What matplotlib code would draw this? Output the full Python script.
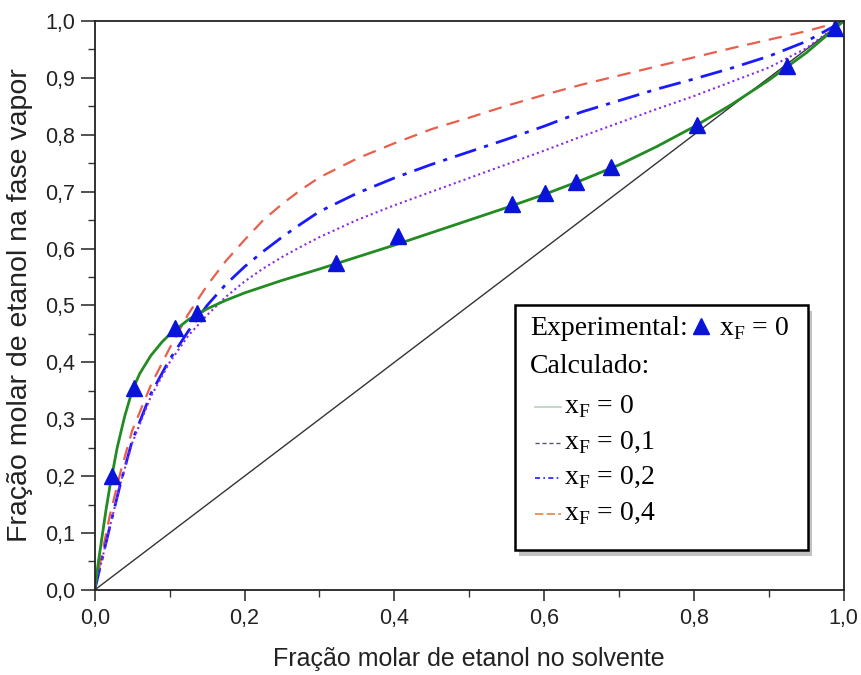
import matplotlib
matplotlib.use('Agg')
import matplotlib.pyplot as plt
from matplotlib.patches import Rectangle
from matplotlib.lines import Line2D

# dados experimentais (x_F = 0)
x_exp = [0.023, 0.052, 0.107, 0.136, 0.322, 0.405, 0.557, 0.601, 0.642, 0.689, 0.804, 0.924, 0.988]
y_exp = [0.200, 0.355, 0.460, 0.487, 0.574, 0.622, 0.678, 0.697, 0.717, 0.743, 0.817, 0.920, 0.987]

# curva calculada x_F = 0
x_f0 = [0, 0.005, 0.01, 0.015, 0.02, 0.03, 0.04, 0.05, 0.06, 0.075, 0.09, 0.1, 0.125, 0.15, 0.175, 0.2,
        0.25, 0.3, 0.35, 0.4, 0.45, 0.5, 0.55, 0.6, 0.65, 0.7, 0.75, 0.8, 0.85, 0.9, 0.95, 1.0]
y_f0 = [0, 0.05, 0.095, 0.14, 0.18, 0.25, 0.305, 0.35, 0.38, 0.412, 0.436, 0.449, 0.475, 0.494, 0.509, 0.522,
        0.544, 0.564, 0.585, 0.606, 0.628, 0.65, 0.672, 0.695, 0.72, 0.747, 0.779, 0.814, 0.853, 0.896, 0.944, 1.0]

# curvas calculadas x_F = 0,1 / 0,2 / 0,4
x_calc = [0, 0.01, 0.02, 0.035, 0.05, 0.075, 0.1, 0.125, 0.15, 0.175, 0.2, 0.225, 0.25, 0.275, 0.3, 0.35,
          0.4, 0.45, 0.5, 0.55, 0.6, 0.65, 0.7, 0.75, 0.8, 0.85, 0.9, 0.95, 1.0]
y_f01 = [0, 0.055, 0.11, 0.19, 0.258, 0.34, 0.4, 0.447, 0.483, 0.515, 0.542, 0.565, 0.585, 0.603, 0.62, 0.65,
         0.676, 0.7, 0.724, 0.748, 0.772, 0.797, 0.821, 0.845, 0.868, 0.893, 0.918, 0.952, 1.0]
y_f02 = [0, 0.055, 0.11, 0.19, 0.262, 0.345, 0.405, 0.455, 0.5, 0.537, 0.568, 0.595, 0.62, 0.643, 0.665, 0.697,
         0.724, 0.748, 0.77, 0.792, 0.815, 0.84, 0.86, 0.88, 0.898, 0.917, 0.938, 0.964, 1.0]
y_f04 = [0, 0.065, 0.13, 0.21, 0.28, 0.36, 0.425, 0.485, 0.535, 0.578, 0.615, 0.65, 0.678, 0.703, 0.725, 0.758,
         0.785, 0.81, 0.83, 0.851, 0.87, 0.888, 0.904, 0.92, 0.936, 0.952, 0.967, 0.982, 1.0]

xticks = [0.0, 0.2, 0.4, 0.6, 0.8, 1.0]
xticklabels = ['0,0', '0,2', '0,4', '0,6', '0,8', '1,0']
yticks = [0.0, 0.1, 0.2, 0.3, 0.4, 0.5, 0.6, 0.7, 0.8, 0.9, 1.0]
yticklabels = ['0,0', '0,1', '0,2', '0,3', '0,4', '0,5', '0,6', '0,7', '0,8', '0,9', '1,0']

plt.rcParams['font.family'] = 'Liberation Sans'

fig = plt.figure(figsize=(8.61, 6.75), dpi=100)
ax = fig.add_axes([0.110, 0.126, 0.870, 0.843])

ax.plot([0, 1], [0, 1], color='#333333', lw=1.0)
ax.plot(x_calc, y_f04, color='#e8604c', lw=1.6, ls=(0, (6, 4)))
ax.plot(x_calc, y_f02, color='#1a1aff', lw=2.0, ls=(0, (8, 3, 1.5, 3)))
ax.plot(x_calc, y_f01, color='#8a2be2', lw=1.5, ls=(0, (1, 1.5)))
ax.plot(x_f0, y_f0, color='#228b22', lw=2.0)
ax.plot(x_exp, y_exp, ls='none', marker='^', ms=11, color='#0a14d8', mec='#0a14d8')

ax.set_xlim(0, 1)
ax.set_ylim(0, 1)
ax.set_xticks(xticks)
ax.set_xticklabels(xticklabels, fontsize=15.5)
ax.set_yticks(yticks)
ax.set_yticklabels(yticklabels, fontsize=15.5)
ax.set_xticks([0.1, 0.3, 0.5, 0.7, 0.9], minor=True)
ax.set_yticks([0.05 + 0.1 * i for i in range(10)], minor=True)
ax.tick_params(axis='x', which='major', direction='out', length=8, width=1.2, pad=5, color='#333333', labelcolor='#222222')
ax.tick_params(axis='x', which='minor', direction='out', length=5, width=1.0, color='#333333')
ax.tick_params(axis='y', which='major', direction='out', length=10, width=1.2, pad=4, color='#333333', labelcolor='#222222')
ax.tick_params(axis='y', which='minor', direction='out', length=5, width=1.0, color='#333333')
for s in ax.spines.values():
    s.set_linewidth(1.3)
    s.set_color('#222222')

ax.set_xlabel('Fração molar de etanol no solvente', fontsize=18, labelpad=13, color='#222222')
ax.set_ylabel('Fração molar de etanol na fase vapor', fontsize=20.5, labelpad=9, color='#222222')

# legenda desenhada a mao
ax.add_patch(Rectangle((0.567, 0.060), 0.391, 0.431, transform=ax.transAxes,
                       facecolor='#999999', edgecolor='none', alpha=0.6, zorder=5))
ax.add_patch(Rectangle((0.561, 0.070), 0.391, 0.431, transform=ax.transAxes,
                       facecolor='white', edgecolor='black', lw=1.8, zorder=6))

serif = 'Liberation Serif'
fs = 20
ax.text(0.581, 0.460, 'Experimental:', transform=ax.transAxes, fontsize=fs, family=serif, va='center', zorder=7)
ax.plot([0.810], [0.464], transform=ax.transAxes, marker='^', ms=11, color='#0a14d8', zorder=7, clip_on=False)
ax.text(0.834, 0.460, r'x$_\mathregular{F}$ = 0', transform=ax.transAxes, fontsize=fs, family=serif, va='center', zorder=7)
ax.text(0.581, 0.392, 'Calculado:', transform=ax.transAxes, fontsize=fs, family=serif, va='center', zorder=7)

rows = [(0.322, r'x$_\mathregular{F}$ = 0', '#b8d0c0', '-', 1.2),
        (0.258, r'x$_\mathregular{F}$ = 0,1', '#555577', (0, (3, 2)), 1.0),
        (0.197, r'x$_\mathregular{F}$ = 0,2', '#1a1aff', (0, (3, 2, 1, 2)), 1.2),
        (0.134, r'x$_\mathregular{F}$ = 0,4', '#e8804c', (0, (5, 2)), 1.2)]
for yy, lab, c, st, w in rows:
    ax.add_line(Line2D([0.588, 0.622], [yy, yy], transform=ax.transAxes, color=c, ls=st, lw=w, zorder=7))
    ax.text(0.627, yy, lab, transform=ax.transAxes, fontsize=fs, family=serif, va='center', zorder=7)

fig.savefig('out.png', dpi=100)
